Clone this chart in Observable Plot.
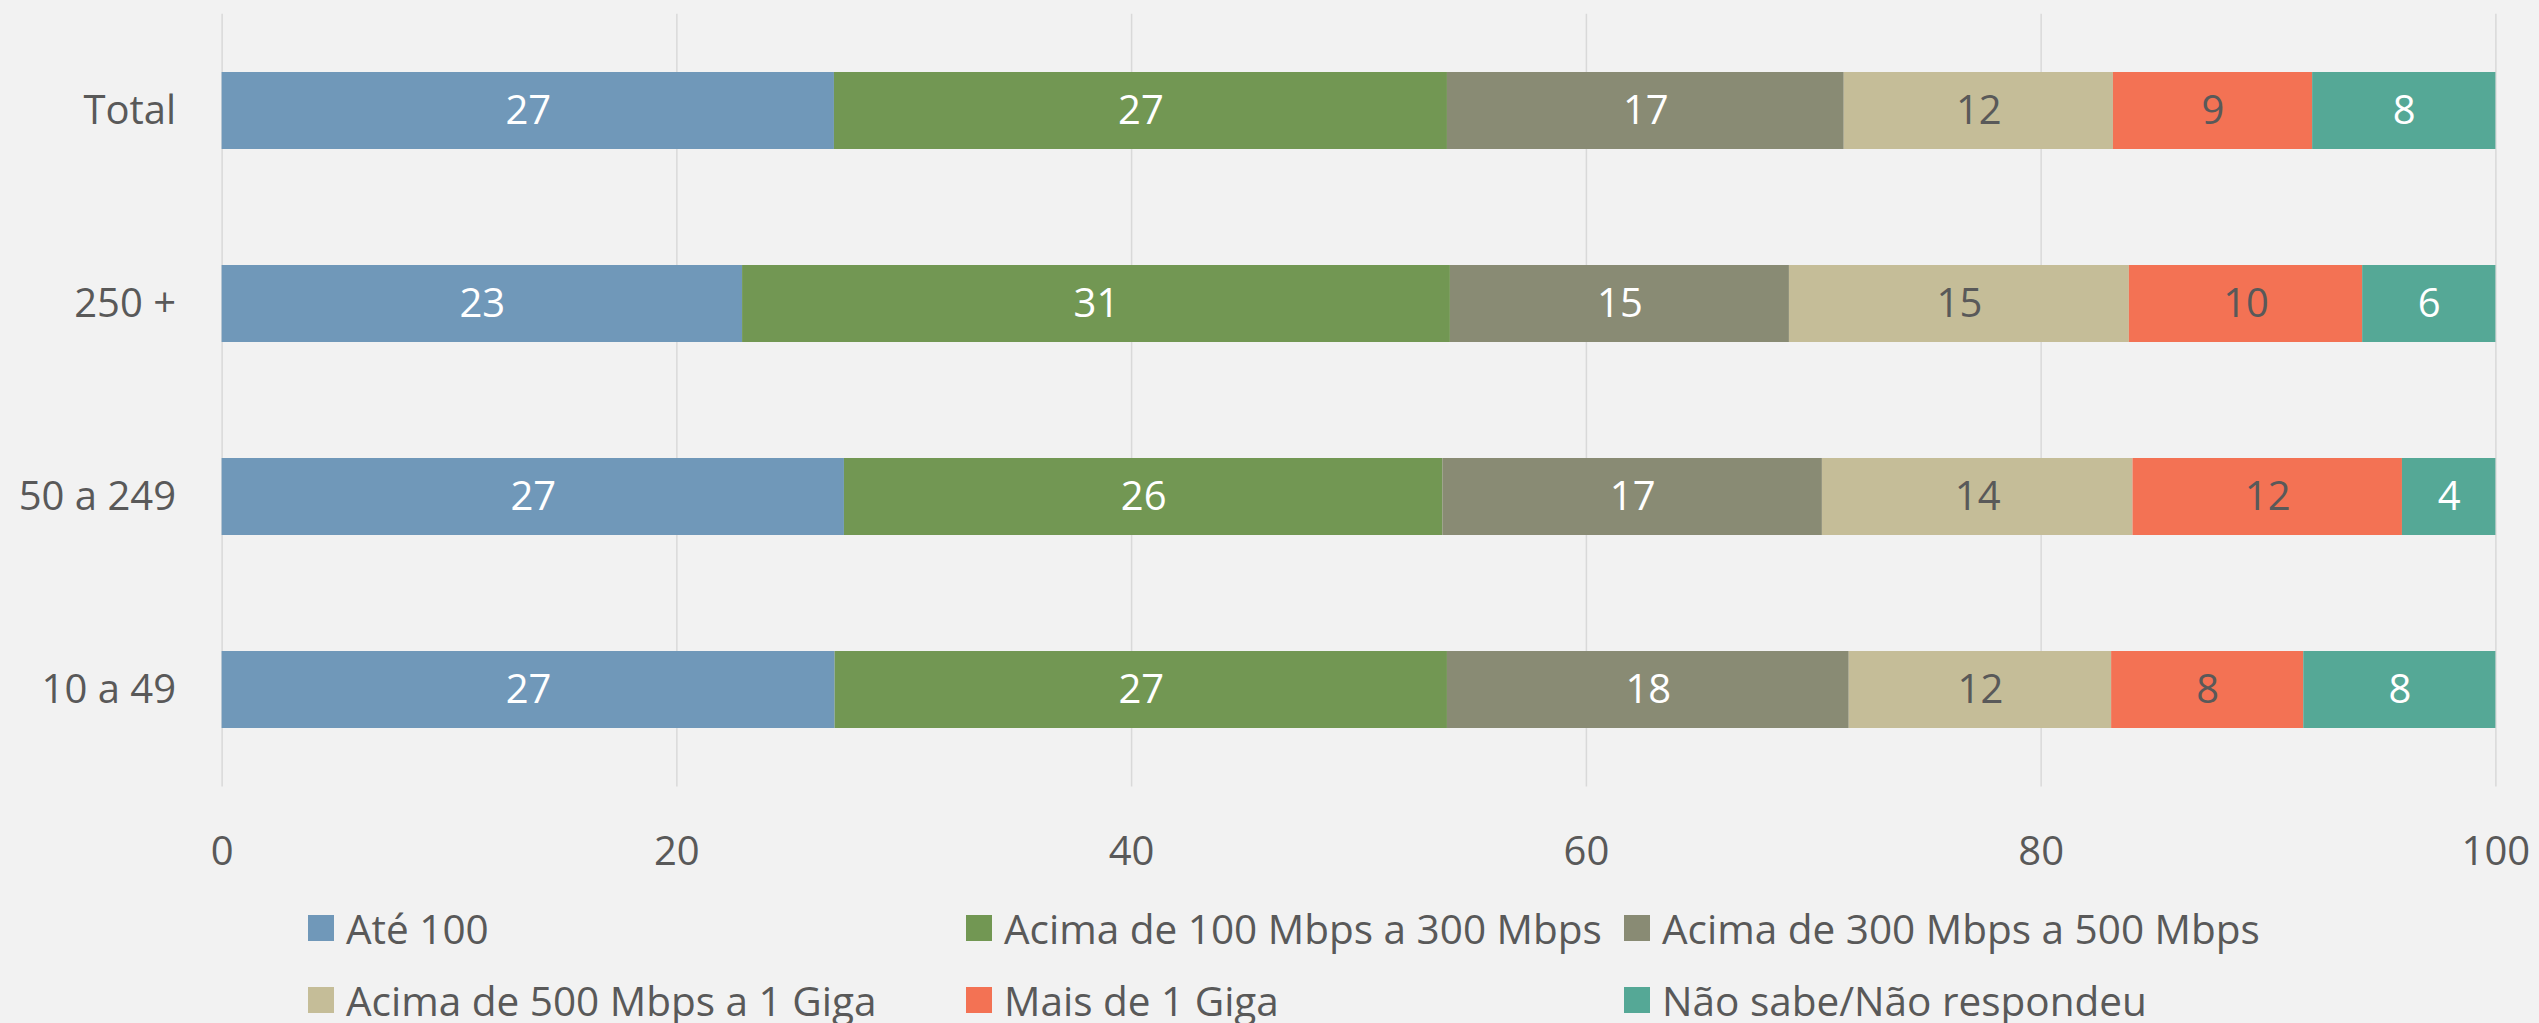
<!DOCTYPE html>
<html><head><meta charset="utf-8">
<script src="https://cdn.jsdelivr.net/npm/d3@7"></script>
<script src="https://cdn.jsdelivr.net/npm/@observablehq/plot@0.6"></script>
<style>
html,body{margin:0;padding:0;background:#f2f2f2;}
body{width:2539px;height:1023px;overflow:hidden;font-family:"Open Sans",sans-serif;}
#chart svg{display:block;}
#legend{display:grid;grid-template-columns:658px 658px 658px;padding-left:308px;margin-top:12px;}
.item{display:flex;align-items:center;height:72px;white-space:nowrap;font-size:40.5px;color:#595959;}
.sw{width:26px;height:26px;margin-right:12px;flex:none;}
</style>
</head><body>
<div id="chart"></div>
<div id="legend"></div>
<script>
const categories = ["Total", "250 +", "50 a 249", "10 a 49"];
const seriesNames = ["Até 100", "Acima de 100 Mbps a 300 Mbps", "Acima de 300 Mbps a 500 Mbps",
  "Acima de 500 Mbps a 1 Giga", "Mais de 1 Giga", "Não sabe/Não respondeu"];
const seriesColors = ["#7098b9", "#729753", "#898b74", "#c5bd98", "#f37254", "#55a896"];
const labelColors = ["#ffffff", "#ffffff", "#ffffff", "#595959", "#595959", "#ffffff"];
// values per series, in category order (Total, 250 +, 50 a 249, 10 a 49)
const ate100     = [26.93, 22.89, 27.37, 26.96];
const de100a300  = [26.96, 31.13, 26.32, 26.93];
const de300a500  = [17.45, 14.91, 16.69, 17.67];
const de500a1G   = [11.84, 14.95, 13.66, 11.54];
const mais1G     = [8.76, 10.26, 11.85, 8.45];
const naoSabe    = [8.06, 5.86, 4.11, 8.45];
const xTicks = [0, 20, 40, 60, 80, 100];

const seriesValues = [ate100, de100a300, de300a500, de500a1G, mais1G, naoSabe];
const rows = [];
categories.forEach((c, i) => {
  seriesNames.forEach((s, j) => {
    rows.push({cat: c, series: s, value: seriesValues[j][i], labelColor: labelColors[j]});
  });
});

const stackOpts = {x: "value", y: "cat", order: null};

const plot = Plot.plot({
  width: 2539,
  height: 880,
  marginLeft: 221.6,
  marginRight: 43.6,
  marginTop: 13.7,
  marginBottom: 93.5,
  style: {background: "#f2f2f2", fontFamily: "Open Sans", fontSize: "40px", color: "#595959"},
  x: {domain: [0, 100]},
  y: {domain: categories, paddingInner: 0.6, paddingOuter: 0.3},
  color: {domain: seriesNames, range: seriesColors},
  marks: [
    Plot.ruleX(xTicks, {stroke: "#d9d9d9", strokeWidth: 1.5}),
    Plot.barX(rows, Plot.stackX({...stackOpts, fill: "series"})),
    Plot.textX(rows, Plot.stackX({...stackOpts, text: d => String(Math.round(d.value)),
      fill: d => d.labelColor, fontSize: 40})),
    Plot.axisX({ticks: xTicks, tickSize: 0, tickPadding: 50, fontSize: 40, label: null}),
    Plot.axisY({tickSize: 0, tickPadding: 46, fontSize: 40, label: null})
  ]
});
document.getElementById("chart").appendChild(plot);

// legend
const leg = document.getElementById("legend");
seriesNames.forEach((name, j) => {
  const it = document.createElement("div");
  it.className = "item";
  const sw = document.createElement("span");
  sw.className = "sw";
  sw.style.background = seriesColors[j];
  const tx = document.createElement("span");
  tx.textContent = name;
  it.appendChild(sw); it.appendChild(tx);
  leg.appendChild(it);
});
</script>
</body></html>
